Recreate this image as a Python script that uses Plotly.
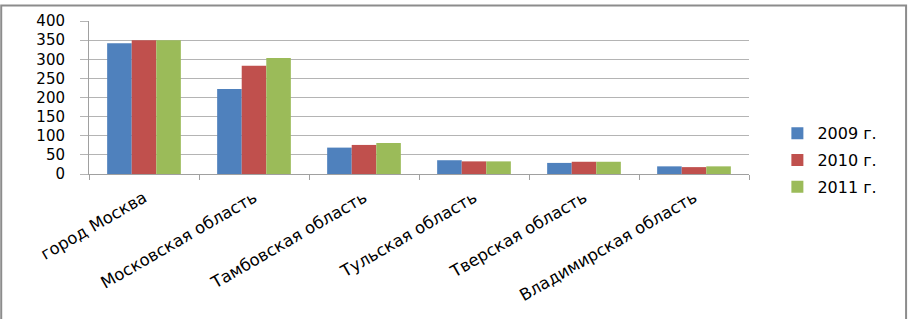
import plotly.graph_objects as go

categories = ["город Москва", "Московская область", "Тамбовская область",
              "Тульская область", "Тверская область", "Владимирская область"]
series_names = ["2009 г.", "2010 г.", "2011 г."]
values_2009 = [342, 222, 69, 36, 29, 20]
values_2010 = [350, 283, 76, 33, 32, 18]
values_2011 = [350, 303, 81, 33, 32, 20]
colors = ["#4F81BD", "#C0504D", "#9BBB59"]
y_ticks = [0, 50, 100, 150, 200, 250, 300, 350, 400]

fig = go.Figure()
for i, (name, vals) in enumerate(zip(series_names, [values_2009, values_2010, values_2011])):
    fig.add_trace(go.Bar(x=categories, y=vals, name=name, marker_color=colors[i],
                         marker_line_width=0, legendgroup=str(i)))

fig.update_layout(
    width=909, height=319,
    margin=dict(l=89, r=160, t=17, b=145),
    paper_bgcolor="white", plot_bgcolor="white",
    barmode="group", bargap=0.33, bargroupgap=0,
    font=dict(family="DejaVu Sans", color="#000000"),
    legend=dict(x=1.043, y=0.09, xanchor="left", yanchor="middle",
                font=dict(size=16, color="#000000"), tracegroupgap=3,
                bgcolor="rgba(0,0,0,0)"),
    shapes=[dict(type="rect", xref="paper", yref="paper", x0=-0.133, x1=1.238,
                 y0=-1.0, y1=1.102, line=dict(color="#8c8c8c", width=2))],
)
fig.update_yaxes(range=[0, 400], tickvals=y_ticks, showgrid=True, gridcolor="#b4b4b4",
                 gridwidth=1, showline=True, linecolor="#a0a0a0", linewidth=1,
                 ticks="outside", ticklen=8, tickcolor="#b4b4b4",
                 ticklabelstandoff=12,
                 tickfont=dict(size=15, color="#000000"), zeroline=False)
fig.update_xaxes(tickangle=-30,
                 tickfont=dict(family="DejaVu Sans", size=16.5, color="#000000"),
                 showline=True, linecolor="#a0a0a0", linewidth=1,
                 ticks="outside", ticklen=5, tickcolor="#a0a0a0",
                 ticklabelstandoff=7,
                 tickson="boundaries")

fig.write_html("out.html", config={"displayModeBar": False},
               post_script="document.body.style.margin='0';document.body.style.overflow='hidden';")
